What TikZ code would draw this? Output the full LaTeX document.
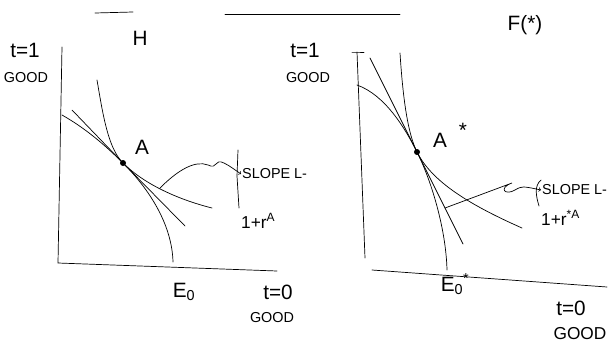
\documentclass[tikz,border=0pt]{standalone}
\usepackage{fontspec}
\setmainfont{Liberation Sans}
\usetikzlibrary{calc}
\tikzset{
  sketch/.style={line width=0.7pt,line cap=round},
  hand/.style={inner sep=1pt,font=\huge},
  small/.style={inner sep=1pt,font=\Large},
  blob/.style={circle,fill=black,inner sep=0pt,minimum size=6pt}
}

\begin{document}
\begin{tikzpicture}[x=1pt,y=-1pt]
  \useasboundingbox (0,0) rectangle (615,343);
  % header strokes
  \coordinate (b1) at (95,13);  \coordinate (b2) at (133,12);
  \coordinate (b3) at (225,14); \coordinate (b4) at (400,14);
  \draw[sketch] (b1) -- (b2);
  \draw[sketch] (b3) -- (b4);
  \node[hand] (H) at (140,38) {H};
  \node[hand] (F) at (525,25) {F(*)};

  % left panel: home
  \coordinate (O1) at (58,263);
  \coordinate (Y1) at (62,47);
  \coordinate (X1) at (277,271);
  \draw[sketch] (Y1) -- (O1) -- (X1);
  \node[hand] (T1) at (25,50) {t=1};
  \node[small] (G1) at (26,78) {GOOD};
  \node[hand] (E1) at (184,292) {E\textsubscript{0}};
  \node[hand] (T0) at (278,292) {t=0};
  \node[small] (G0) at (272,318) {GOOD};
  \coordinate (A) at (123,163);
  \draw[sketch] (62,115) .. controls (85,128) and (105,145) .. (A)
    .. controls (150,190) and (172,225) .. (173,262);
  \draw[sketch] (97,80) .. controls (103,115) and (108,148) .. (A)
    .. controls (145,185) and (180,200) .. (212,208);
  \draw[sketch] (72,110) -- (A) -- (185,226);
  \node[blob] (dotA) at (A) {};
  \node[hand] (lA) at (142,147) {A};
  \coordinate (s1) at (160,188);
  \node[small,anchor=west] (slope1) at (241,174) {SLOPE L-};
  \node[small,font=\LARGE,anchor=west] (rate1) at (240,221) {1+r\textsuperscript{A}};
  \draw[sketch] (238,150) -- (237,176) -- (239,208);
  \draw[sketch,->] (s1) .. controls (178,170) and (195,160) .. (208,165)
    .. controls (218,170) and (214,158) .. (224,163)
    .. controls (228,165) .. (slope1.west);

  % right panel: foreign
  \coordinate (O2) at (365,258);
  \coordinate (Y2) at (357,52);
  \coordinate (X2) at (607,287);
  \draw[sketch] (Y2) -- (O2);
  \draw[sketch] (352,52) -- (Y2) -- (364,52);
  \draw[sketch] (372,270) -- (X2);
  \node[hand] (T1s) at (305,50) {t=1};
  \node[small] (G1s) at (308,78) {GOOD};
  \node[hand] (E2) at (455,284) {E\textsubscript{0}\textsuperscript{*}};
  \node[hand] (T0s) at (571,308) {t=0};
  \node[small,font=\LARGE] (G0s) at (580,334) {GOOD};
  \coordinate (As) at (417,152);
  \draw[sketch] (357,85) .. controls (385,95) and (405,128) .. (As)
    .. controls (432,182) and (446,230) .. (447,270);
  \draw[sketch] (400,53) .. controls (403,100) and (408,134) .. (As)
    .. controls (432,182) and (470,205) .. (522,228);
  \draw[sketch] (370,58) -- (As) -- (463,244);
  \node[blob] (dotAs) at (As) {};
  \node[hand] (lAs) at (440,140) {A};
  \node[hand] (star) at (463,130) {*};
  \coordinate (s2) at (445,208);
  \node[small,anchor=west] (slope2) at (541,190) {SLOPE L-};
  \node[small,font=\LARGE,anchor=west] (rate2) at (540,218) {1+r\textsuperscript{*A}};
  \draw[sketch] (541,180) .. controls (534,186) and (536,196) .. (539,206);
  \draw[sketch,->] (s2) -- (512,183)
    .. controls (498,188) and (505,196) .. (515,190)
    .. controls (522,186) .. (slope2.west);
\end{tikzpicture}
\end{document}
